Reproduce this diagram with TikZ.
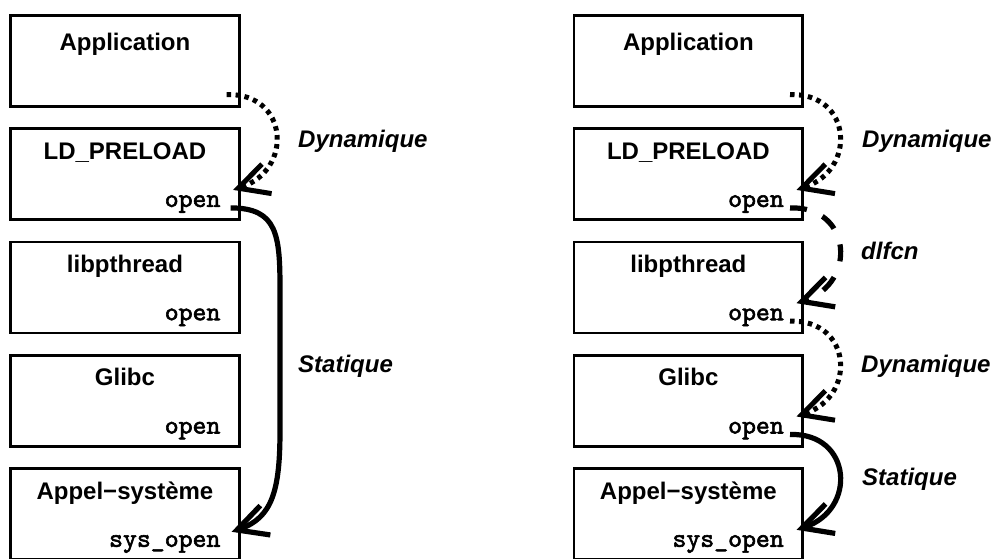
\documentclass[tikz,border=0pt]{standalone}
\usepackage{fontspec}
\setmainfont{Liberation Sans}
\newfontfamily\monob{lmmono10-regular.otf}[FakeBold=2.2]
\usetikzlibrary{arrows.meta,calc}
\begin{document}
\begin{tikzpicture}[x=1pt,y=-1pt,
  box/.style={draw, line width=2.6pt, minimum width=228.7pt, minimum height=91pt, inner sep=0pt, anchor=north west},
  ttl/.style={font=\fontsize{24}{28}\selectfont\bfseries, anchor=base, inner sep=0pt},
  fn/.style={font=\fontsize{26.5}{28}\selectfont\monob, anchor=base east, inner sep=0pt},
  lbl/.style={font=\fontsize{24}{28}\selectfont\bfseries\itshape, anchor=base west, inner sep=0pt},
  arr/.style={line width=5.2pt, -{Straight Barb[length=30pt,width=31pt]}},
  dyn/.style={arr, line width=5pt, dash pattern=on 4.5pt off 4.5pt},
  dl/.style={arr, dash pattern=on 17pt off 17pt},
  sta/.style={arr},
]
\useasboundingbox (0,0) rectangle (997,558);

% left column
\node[box] (LA)  at (9.3,14) {};
\node[box] (LLD) at (9.3,127.3) {};
\node[box] (LLP) at (9.3,240.6) {};
\node[box] (LGL) at (9.3,353.9) {};
\node[box] (LAS) at (9.3,467.2) {};
% right column
\node[box] (RA)  at (572.7,14) {};
\node[box] (RLD) at (572.7,127.3) {};
\node[box] (RLP) at (572.7,240.6) {};
\node[box] (RGL) at (572.7,353.9) {};
\node[box] (RAS) at (572.7,467.2) {};

% titles
\foreach \s in {L,R}{
  \node[ttl] (\s tA)  at ($(\s A.north)+(0,36)$) {Application};
  \node[ttl] (\s tLD) at ($(\s LD.north)+(0,32)$) {LD\_PRELOAD};
  \node[ttl] (\s tLP) at ($(\s LP.north)+(0,32)$) {libpthread};
  \node[ttl] (\s tGL) at ($(\s GL.north)+(0,32)$) {Glibc};
  \node[ttl] (\s tAS) at ($(\s AS.north)+(0,32)$) {Appel−système};
  \node[fn] (\s oLD) at ($(\s LD.south east)+(-20,-14)$) {open};
  \node[fn] (\s oLP) at ($(\s LP.south east)+(-20,-14)$) {open};
  \node[fn] (\s oGL) at ($(\s GL.south east)+(-20,-14)$) {open};
  \node[fn] (\s oAS) at ($(\s AS.south east)+(-20,-14)$) {sys\_open};
}

% left arrows
\draw[dyn] ($(LA.south east)+(-14,-13)$) .. controls +(62,-2) and +(61,-20) .. ($(LLD.south east)+(-7.5,-31)$);
\draw[sta] ($(LLD.south east)+(-10,-13)$) .. controls +(47,0) and +(0,-55) .. (280,290) -- (280,430)
  .. controls +(0,60) and +(41,-14) .. ($(LAS.south east)+(-9,-29)$);
\node[lbl] (l1) at (298,147) {Dynamique};
\node[lbl] (l2) at (298,372) {Statique};

% right arrows
\draw[dyn] ($(RA.south east)+(-14,-13)$) .. controls +(62,-2) and +(61,-20) .. ($(RLD.south east)+(-7.5,-31)$);
\draw[dl]  ($(RLD.south east)+(-14,-13)$) .. controls +(62,-2) and +(61,-20) .. ($(RLP.south east)+(-7.5,-31)$);
\draw[dyn] ($(RLP.south east)+(-14,-13)$) .. controls +(62,-2) and +(61,-20) .. ($(RGL.south east)+(-7.5,-31)$);
\draw[sta] ($(RGL.south east)+(-14,-13)$) .. controls +(62,-2) and +(61,-20) .. ($(RAS.south east)+(-7.5,-31)$);
\node[lbl] (r1) at (862,147) {Dynamique};
\node[lbl] (r2) at (861,259) {dlfcn};
\node[lbl] (r3) at (861,372) {Dynamique};
\node[lbl] (r4) at (862,485) {Statique};
\end{tikzpicture}
\end{document}
